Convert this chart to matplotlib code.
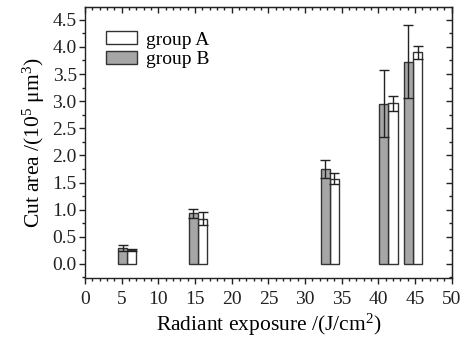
import matplotlib.pyplot as plt
from matplotlib.ticker import MultipleLocator

# fonte parecida com Times
plt.rcParams['font.family'] = ['Liberation Serif', 'DejaVu Serif']
plt.rcParams['mathtext.fontset'] = 'custom'
plt.rcParams['mathtext.rm'] = 'Liberation Serif'
plt.rcParams['mathtext.it'] = 'Liberation Serif:italic'

# dados
pos_b = [5.1, 14.75, 32.75, 40.7, 44.1]
pos_a = [6.35, 16.05, 34.0, 42.0, 45.35]
valor_b = [0.29, 0.93, 1.75, 2.95, 3.73]
erro_b = [0.05, 0.08, 0.17, 0.62, 0.67]
valor_a = [0.26, 0.83, 1.57, 2.96, 3.90]
erro_a = [0.02, 0.12, 0.10, 0.14, 0.12]
largura = 1.25

fig = plt.figure(figsize=(4.73, 3.37), dpi=100)
ax = fig.add_axes([0.18, 0.175, 0.775, 0.805])

ax.bar(pos_a, valor_a, width=largura, color='white', edgecolor='#333333',
       linewidth=1.0, label='group A', zorder=2)
ax.bar(pos_b, valor_b, width=largura, color='#a6a6a6', edgecolor='#333333',
       linewidth=1.0, label='group B', zorder=2)
ax.errorbar(pos_a, valor_a, yerr=erro_a, fmt='none', ecolor='#222222',
            elinewidth=1.0, capsize=3.5, capthick=1.0, zorder=3)
ax.errorbar(pos_b, valor_b, yerr=erro_b, fmt='none', ecolor='#222222',
            elinewidth=1.0, capsize=3.5, capthick=1.0, zorder=3)

ax.set_xlim(0, 50)
ax.set_ylim(-0.26, 4.74)
ax.xaxis.set_major_locator(MultipleLocator(5))
ax.xaxis.set_minor_locator(MultipleLocator(1))
ax.yaxis.set_major_locator(MultipleLocator(0.5))
ax.yaxis.set_minor_locator(MultipleLocator(0.25))
ax.yaxis.set_major_formatter(plt.FormatStrFormatter('%.1f'))
ax.tick_params(which='major', direction='out', length=4, width=1, labelsize=14, colors='#222222')
ax.tick_params(which='minor', direction='out', length=2, width=1, colors='#222222')
ax.tick_params(axis='x', which='major', pad=5)
ax.tick_params(axis='y', which='major', pad=2)

# ticks para dentro em cima e na direita
topo = ax.secondary_xaxis('top')
topo.xaxis.set_major_locator(MultipleLocator(5))
topo.xaxis.set_minor_locator(MultipleLocator(1))
topo.tick_params(which='major', direction='in', length=4, width=1, labeltop=False, colors='#222222')
topo.tick_params(which='minor', direction='in', length=2, width=1, colors='#222222')
direita = ax.secondary_yaxis('right')
direita.yaxis.set_major_locator(MultipleLocator(0.5))
direita.yaxis.set_minor_locator(MultipleLocator(0.25))
direita.tick_params(which='major', direction='in', length=4, width=1, labelright=False, colors='#222222')
direita.tick_params(which='minor', direction='in', length=2, width=1, colors='#222222')

for s in ax.spines.values():
    s.set_linewidth(1.0)
    s.set_color('#222222')

ax.set_xlabel('Radiant exposure /(J/cm$^2$)', fontsize=15.5, labelpad=3)
ax.set_ylabel('Cut area /(10$^5$ \u03bcm$^3$)', fontsize=15.5, labelpad=4)

ax.legend(loc='upper left', bbox_to_anchor=(0.031, 0.945), frameon=False, fontsize=14,
          borderpad=0, handlelength=1.6, handleheight=0.65, handletextpad=0.45,
          labelspacing=0.1)

fig.savefig('out.png', dpi=100)
